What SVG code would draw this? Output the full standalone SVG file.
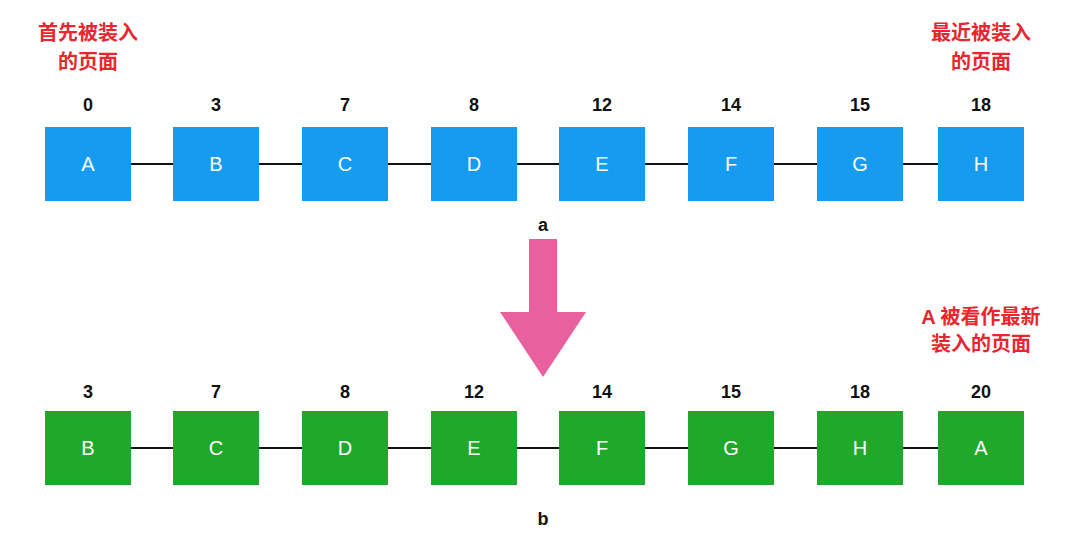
<svg xmlns="http://www.w3.org/2000/svg" width="1080" height="544" viewBox="0 0 1080 544">
<style>
.blue{fill:#159BEF}
.green{fill:#20A82B}
.lbl{font-family:"Liberation Sans",Arial,sans-serif;font-size:20px;fill:#FFFFFF;text-anchor:middle}
.num{font-family:"Liberation Sans",Arial,sans-serif;font-size:18px;font-weight:bold;fill:#111111;text-anchor:middle}
.red{font-family:"Liberation Sans","Noto Sans CJK SC",sans-serif;font-size:20px;font-weight:bold;fill:#E8262E;text-anchor:middle}
.cap{font-family:"Liberation Sans",Arial,sans-serif;font-size:18px;font-weight:bold;fill:#111111;text-anchor:middle}
.line{stroke:#111111;stroke-width:2}
</style>
<rect width="1080" height="544" fill="#FFFFFF"/>
<g id="connectors">
<line class="line" x1="131" y1="164" x2="173" y2="164"/>
<line class="line" x1="259" y1="164" x2="302" y2="164"/>
<line class="line" x1="388" y1="164" x2="431" y2="164"/>
<line class="line" x1="517" y1="164" x2="559" y2="164"/>
<line class="line" x1="645" y1="164" x2="688" y2="164"/>
<line class="line" x1="774" y1="164" x2="817" y2="164"/>
<line class="line" x1="903" y1="164" x2="938" y2="164"/>
<line class="line" x1="131" y1="448" x2="173" y2="448"/>
<line class="line" x1="259" y1="448" x2="302" y2="448"/>
<line class="line" x1="388" y1="448" x2="431" y2="448"/>
<line class="line" x1="517" y1="448" x2="559" y2="448"/>
<line class="line" x1="645" y1="448" x2="688" y2="448"/>
<line class="line" x1="774" y1="448" x2="817" y2="448"/>
<line class="line" x1="903" y1="448" x2="938" y2="448"/>
</g>
<g id="top-A"><rect class="blue" x="45" y="127" width="86" height="74"/><text class="lbl" x="88" y="171">A</text><text class="num" x="88" y="111">0</text></g>
<g id="top-B"><rect class="blue" x="173" y="127" width="86" height="74"/><text class="lbl" x="216" y="171">B</text><text class="num" x="216" y="111">3</text></g>
<g id="top-C"><rect class="blue" x="302" y="127" width="86" height="74"/><text class="lbl" x="345" y="171">C</text><text class="num" x="345" y="111">7</text></g>
<g id="top-D"><rect class="blue" x="431" y="127" width="86" height="74"/><text class="lbl" x="474" y="171">D</text><text class="num" x="474" y="111">8</text></g>
<g id="top-E"><rect class="blue" x="559" y="127" width="86" height="74"/><text class="lbl" x="602" y="171">E</text><text class="num" x="602" y="111">12</text></g>
<g id="top-F"><rect class="blue" x="688" y="127" width="86" height="74"/><text class="lbl" x="731" y="171">F</text><text class="num" x="731" y="111">14</text></g>
<g id="top-G"><rect class="blue" x="817" y="127" width="86" height="74"/><text class="lbl" x="860" y="171">G</text><text class="num" x="860" y="111">15</text></g>
<g id="top-H"><rect class="blue" x="938" y="127" width="86" height="74"/><text class="lbl" x="981" y="171">H</text><text class="num" x="981" y="111">18</text></g>
<g id="bot-B"><rect class="green" x="45" y="411" width="86" height="74"/><text class="lbl" x="88" y="455">B</text><text class="num" x="88" y="398">3</text></g>
<g id="bot-C"><rect class="green" x="173" y="411" width="86" height="74"/><text class="lbl" x="216" y="455">C</text><text class="num" x="216" y="398">7</text></g>
<g id="bot-D"><rect class="green" x="302" y="411" width="86" height="74"/><text class="lbl" x="345" y="455">D</text><text class="num" x="345" y="398">8</text></g>
<g id="bot-E"><rect class="green" x="431" y="411" width="86" height="74"/><text class="lbl" x="474" y="455">E</text><text class="num" x="474" y="398">12</text></g>
<g id="bot-F"><rect class="green" x="559" y="411" width="86" height="74"/><text class="lbl" x="602" y="455">F</text><text class="num" x="602" y="398">14</text></g>
<g id="bot-G"><rect class="green" x="688" y="411" width="86" height="74"/><text class="lbl" x="731" y="455">G</text><text class="num" x="731" y="398">15</text></g>
<g id="bot-H"><rect class="green" x="817" y="411" width="86" height="74"/><text class="lbl" x="860" y="455">H</text><text class="num" x="860" y="398">18</text></g>
<g id="bot-A"><rect class="green" x="938" y="411" width="86" height="74"/><text class="lbl" x="981" y="455">A</text><text class="num" x="981" y="398">20</text></g>
<g id="note-first"><text class="red" x="88" y="40">首先被装入</text><text class="red" x="88" y="69">的页面</text></g>
<g id="note-recent"><text class="red" x="981" y="40">最近被装入</text><text class="red" x="981" y="69">的页面</text></g>
<g id="note-A"><text class="red" x="981" y="324">A 被看作最新</text><text class="red" x="981" y="351">装入的页面</text></g>
<g id="arrow"><polygon points="529,239 557,239 557,312 586,312 543,377 500,312 529,312" fill="#E9609E"/></g>
<text class="cap" x="543" y="231">a</text>
<text class="cap" x="543" y="525">b</text>
</svg>
